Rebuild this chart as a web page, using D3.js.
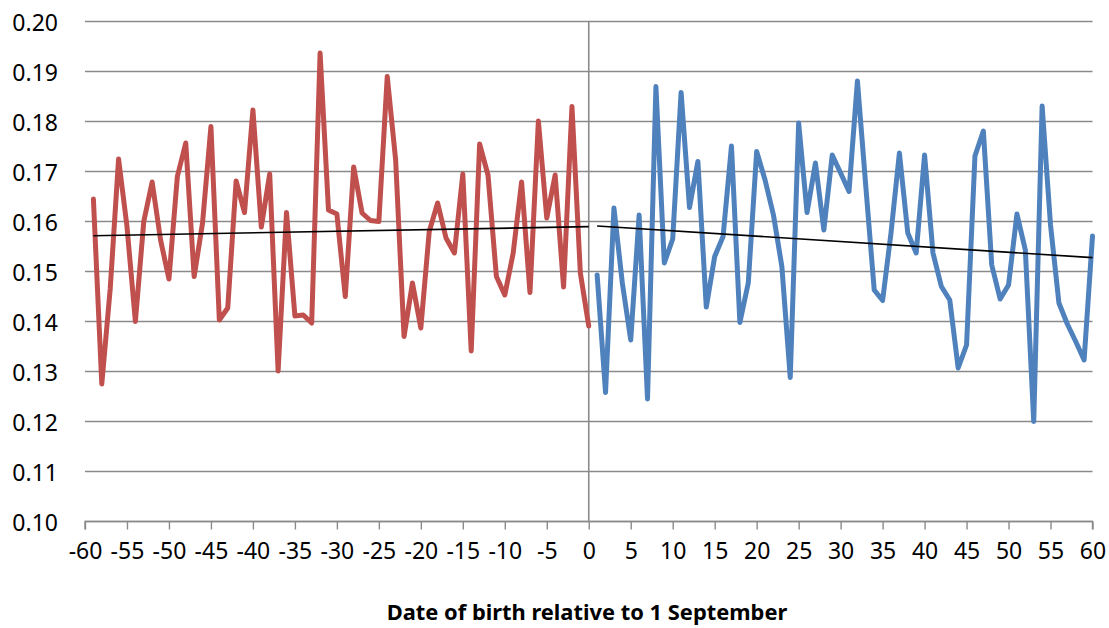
<!DOCTYPE html>
<html>
<head>
<meta charset="utf-8">
<script src="https://cdn.jsdelivr.net/npm/d3@7"></script>
<style>
  html, body { margin: 0; padding: 0; background: #fff; }
  svg { display: block; }
  text { font-family: "Noto Sans", "Open Sans", sans-serif; fill: #000; }
</style>
</head>
<body>
<svg id="chart" width="1109" height="628"></svg>
<script>
// ---- Data ----
const beforeDays = d3.range(-59, 1); // -59 .. 0
const beforeValues = [
  0.1645, 0.1275, 0.1465, 0.1725, 0.1590, 0.1400, 0.1600, 0.1679, 0.1563, 0.1485,
  0.1690, 0.1757, 0.1490, 0.1597, 0.1790, 0.1403, 0.1427, 0.1681, 0.1618, 0.1823,
  0.1589, 0.1695, 0.1301, 0.1618, 0.1411, 0.1413, 0.1397, 0.1937, 0.1623, 0.1615,
  0.1450, 0.1709, 0.1617, 0.1602, 0.1600, 0.1890, 0.1723, 0.1370, 0.1477, 0.1387,
  0.1580, 0.1637, 0.1567, 0.1537, 0.1695, 0.1341, 0.1755, 0.1693, 0.1490, 0.1453,
  0.1537, 0.1679, 0.1458, 0.1801, 0.1607, 0.1693, 0.1469, 0.1830, 0.1497, 0.1391
];
const afterDays = d3.range(1, 61); // 1 .. 60
const afterValues = [
  0.1493, 0.1258, 0.1627, 0.1477, 0.1363, 0.1613, 0.1245, 0.1870, 0.1517, 0.1565,
  0.1858, 0.1628, 0.1720, 0.1429, 0.1530, 0.1570, 0.1751, 0.1398, 0.1477, 0.1740,
  0.1683, 0.1613, 0.1510, 0.1288, 0.1797, 0.1618, 0.1717, 0.1583, 0.1733, 0.1697,
  0.1660, 0.1881, 0.1670, 0.1463, 0.1442, 0.1577, 0.1737, 0.1577, 0.1537, 0.1733,
  0.1537, 0.1470, 0.1443, 0.1307, 0.1353, 0.1731, 0.1781, 0.1513, 0.1445, 0.1473,
  0.1615, 0.1543, 0.1200, 0.1831, 0.1593, 0.1437, 0.1395, 0.1360, 0.1323, 0.1571
];
const xTicks = d3.range(-60, 61, 5);
const yTicks = d3.range(10, 21).map(v => v / 100);
const xTitle = "Date of birth relative to 1 September";

// ---- Layout ----
const svg = d3.select("#chart");
const x = d3.scaleLinear().domain([-60, 60]).range([85, 1092.5]);
const y = d3.scaleLinear().domain([0.10, 0.20]).range([521.5, 21.5]);
const gridColor = "#8a8a8a";

// horizontal gridlines
svg.append("g").selectAll("line").data(yTicks).join("line")
  .attr("x1", x(-60)).attr("x2", x(60))
  .attr("y1", d => y(d)).attr("y2", d => y(d))
  .attr("stroke", gridColor).attr("stroke-width", 1.4);

// y labels
svg.append("g").selectAll("text").data(yTicks).join("text")
  .attr("x", 58).attr("y", d => y(d))
  .attr("text-anchor", "end").attr("dominant-baseline", "central")
  .style("font-size", "23px")
  .text(d => d3.format(".2f")(d));

// bottom axis
const xAxis = d3.axisBottom(x).tickValues(xTicks).tickSize(8).tickPadding(13)
  .tickFormat(d => d === 0 ? "0" : d3.format("d")(d).replace("\u2212", "-"));
const gx = svg.append("g").attr("transform", `translate(0,${y(0.10)})`).call(xAxis);
gx.select(".domain").attr("stroke", gridColor).attr("stroke-width", 1.4)
  .attr("d", `M${x(-60)},8V0H${x(60)}V8`);
gx.selectAll(".tick line").attr("stroke", gridColor).attr("stroke-width", 1.4);
gx.selectAll(".tick text").style("font-size", "23px").style("font-family", "'Noto Sans', sans-serif")
  .attr("fill", "#000");

// vertical line at zero
svg.append("line")
  .attr("x1", x(0)).attr("x2", x(0))
  .attr("y1", y(0.20)).attr("y2", y(0.10))
  .attr("stroke", gridColor).attr("stroke-width", 1.6);

// series lines
const line = d3.line().x(d => x(d[0])).y(d => y(d[1]));
const before = beforeDays.map((d, i) => [d, beforeValues[i]]);
const after = afterDays.map((d, i) => [d, afterValues[i]]);

svg.append("path").datum(before).attr("d", line)
  .attr("fill", "none").attr("stroke", "#C0504D").attr("stroke-width", 5)
  .attr("stroke-linejoin", "round").attr("stroke-linecap", "round");
svg.append("path").datum(after).attr("d", line)
  .attr("fill", "none").attr("stroke", "#4F81BD").attr("stroke-width", 5)
  .attr("stroke-linejoin", "round").attr("stroke-linecap", "round");

// linear trend lines (least squares)
function fit(pts) {
  const mx = d3.mean(pts, p => p[0]), my = d3.mean(pts, p => p[1]);
  const sxy = d3.sum(pts, p => (p[0] - mx) * (p[1] - my));
  const sxx = d3.sum(pts, p => (p[0] - mx) ** 2);
  const b = sxy / sxx, a = my - b * mx;
  const x0 = pts[0][0], x1 = pts[pts.length - 1][0];
  return [[x0, a + b * x0], [x1, a + b * x1]];
}
[before, after].forEach(pts => {
  svg.append("path").datum(fit(pts)).attr("d", line)
    .attr("fill", "none").attr("stroke", "#000").attr("stroke-width", 1.6);
});

// x title
const title = svg.append("text")
  .attr("x", 587).attr("y", 620)
  .attr("text-anchor", "middle")
  .style("font-size", "22px").style("font-weight", "bold")
  .text(xTitle);
const w = title.node().getComputedTextLength();
title.style("font-size", (22 * 401 / w) + "px");
</script>
</body>
</html>
